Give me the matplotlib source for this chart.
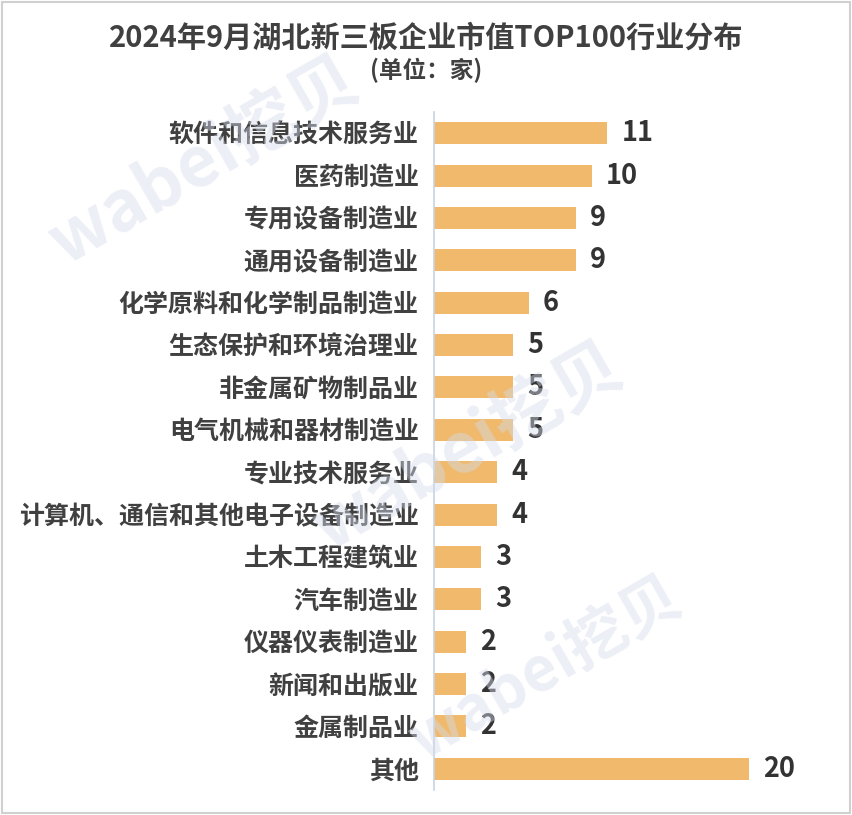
import matplotlib
matplotlib.use("Agg")
import matplotlib.pyplot as plt
from matplotlib.patches import Rectangle

plt.rcParams['font.family'] = ['Noto Sans CJK SC', 'DejaVu Sans']

# data (top to bottom as in the chart)
industries = ['软件和信息技术服务业', '医药制造业', '专用设备制造业', '通用设备制造业',
              '化学原料和化学制品制造业', '生态保护和环境治理业', '非金属矿物制品业',
              '电气机械和器材制造业', '专业技术服务业', '计算机、通信和其他电子设备制造业',
              '土木工程建筑业', '汽车制造业', '仪器仪表制造业', '新闻和出版业',
              '金属制品业', '其他']
counts = [11, 10, 9, 9, 6, 5, 5, 5, 4, 4, 3, 3, 2, 2, 2, 20]

title = '2024年9月湖北新三板企业市值TOP100行业分布'
subtitle = '(单位：家)'

bar_color = '#F0B96B'
text_color = '#404040'

fig = plt.figure(figsize=(8.52, 8.15), dpi=100)
W, H = 852, 815
ax = fig.add_axes([434 / W, 1 - 790 / H, (840 - 434) / W, (790 - 112) / H])

y = list(range(len(industries)))
ax.barh(y, counts, height=0.52, color=bar_color, zorder=2)
ax.set_ylim(len(industries) - 0.5, -0.5)
ax.set_xlim(0, (840 - 434) / 15.75)

for yi, v in zip(y, counts):
    ax.text(v + 0.9, yi, str(v), va='center', ha='left', fontsize=19.5,
            fontweight='bold', color='#333333', zorder=3)

ax.set_yticks(y)
ax.set_yticklabels(industries, fontsize=18, fontweight='bold', color=text_color)
ax.tick_params(axis='y', length=0, pad=11)
ax.set_xticks([])
for s in ['top', 'right', 'bottom']:
    ax.spines[s].set_visible(False)
ax.spines['left'].set_color('#C9D3E0')
ax.spines['left'].set_linewidth(1.2)

fig.text(0.5, 1 - 38 / H, title, ha='center', va='center', fontsize=21,
         fontweight='bold', color=text_color)
fig.text(0.5, 1 - 70 / H, subtitle, ha='center', va='center', fontsize=17,
         fontweight='bold', color=text_color)

# watermark
wm = dict(color='#D5DCEB', alpha=0.45, fontweight='bold', rotation=30,
          ha='center', va='center', zorder=0)
fig.text(0.24, 0.80, 'wabei挖贝', fontsize=50, **wm)
fig.text(0.55, 0.45, 'wabei挖贝', fontsize=50, **wm)
fig.text(0.64, 0.18, 'wabei挖贝', fontsize=44, **wm)

fig.patches.append(Rectangle((0.002, 0.002), 0.996, 0.996, transform=fig.transFigure,
                             fill=False, edgecolor='#D0D0D0', linewidth=1.5))

fig.savefig('out.png', dpi=100)
